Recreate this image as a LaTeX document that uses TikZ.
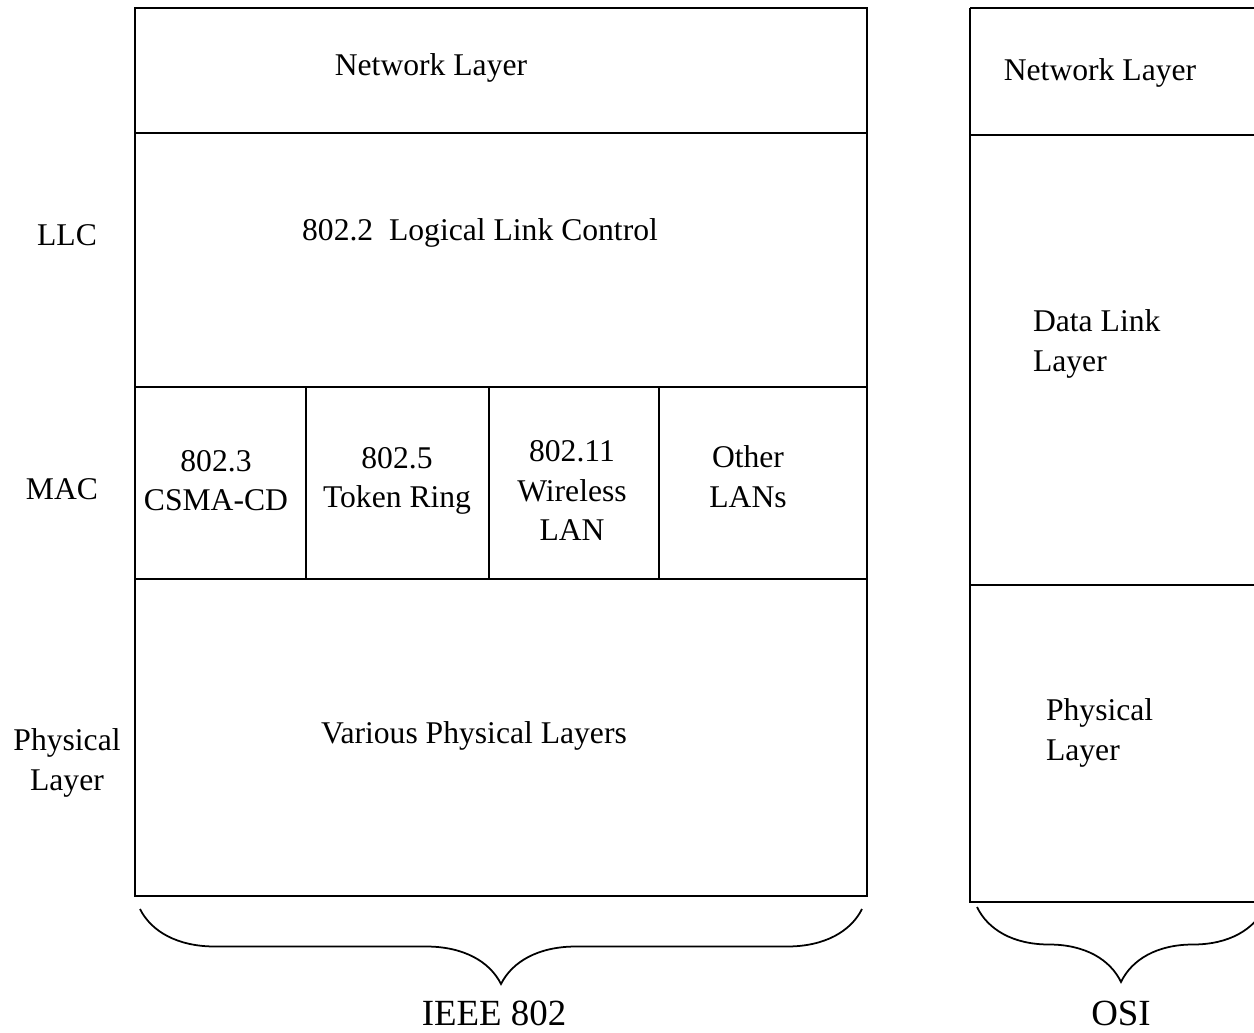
\documentclass[tikz,border=0pt]{standalone}
\usepackage{fontspec}
\setmainfont{Liberation Serif}
\usetikzlibrary{decorations.pathreplacing}

\begin{document}
\begin{tikzpicture}[x=0.02cm,y=-0.02cm,line width=1.2pt,
                    txt/.style={font=\fontsize{18}{22.5}\selectfont,align=center,inner sep=0pt,yshift=-1.6pt},
                    side/.style={txt,align=left},
                    brc/.style={decorate,decoration={brace,mirror,amplitude=1.5cm},line width=1pt},
                    big/.style={font=\fontsize{21}{24}\selectfont,inner sep=0pt}]
  \clip (0,0) rectangle (1254,1032);

  % IEEE 802 stack
  \draw (135,8) rectangle (867,896);
  \draw (135,133) -- (867,133);
  \draw (135,387) -- (867,387);
  \draw (135,579) -- (867,579);
  \draw (306,387) -- (306,579);
  \draw (489,387) -- (489,579);
  \draw (659,387) -- (659,579);

  % OSI stack
  \draw (970,8) -- (1300,8) (970,8) -- (970,902) -- (1300,902);
  \draw (970,135) -- (1300,135);
  \draw (970,585) -- (1300,585);

  \node[txt]  (net)   at (431,65)  {Network Layer};
  \node[txt]  (llc)   at (67,232)  {LLC};
  \node[txt]  (lnk)   at (480,230) {802.2~~Logical Link Control};
  \node[txt]  (mac)   at (62,486)  {MAC};
  \node[txt]  (csma)  at (216,478) {802.3\\CSMA-CD};
  \node[txt]  (ring)  at (397,478) {802.5\\Token Ring};
  \node[txt]  (wlan)  at (572,488) {802.11\\Wireless\\LAN};
  \node[txt]  (other) at (748,474) {Other\\LANs};
  \node[txt]  (phy)   at (67,760)  {Physical\\Layer};
  \node[txt]  (var)   at (474,733) {Various Physical Layers};

  \node[txt]  (onet)  at (1100,70) {Network Layer};
  \node[side,anchor=west] (olnk) at (1032,341) {Data Link\\Layer};
  \node[side,anchor=west] (ophy) at (1045,730) {Physical\\Layer};

  % braces
  \coordinate (ia) at (140,909);
  \coordinate (ib) at (862,909);
  \coordinate (oa) at (977,907);
  \coordinate (ob) at (1265,907);
  \draw[brc] (ia) -- (ib);
  \draw[brc] (oa) -- (ob);

  \node[big]  (ieee)  at (494,1013) {IEEE 802};
  \node[big]  (osi)   at (1121,1013) {OSI};
\end{tikzpicture}
\end{document}
